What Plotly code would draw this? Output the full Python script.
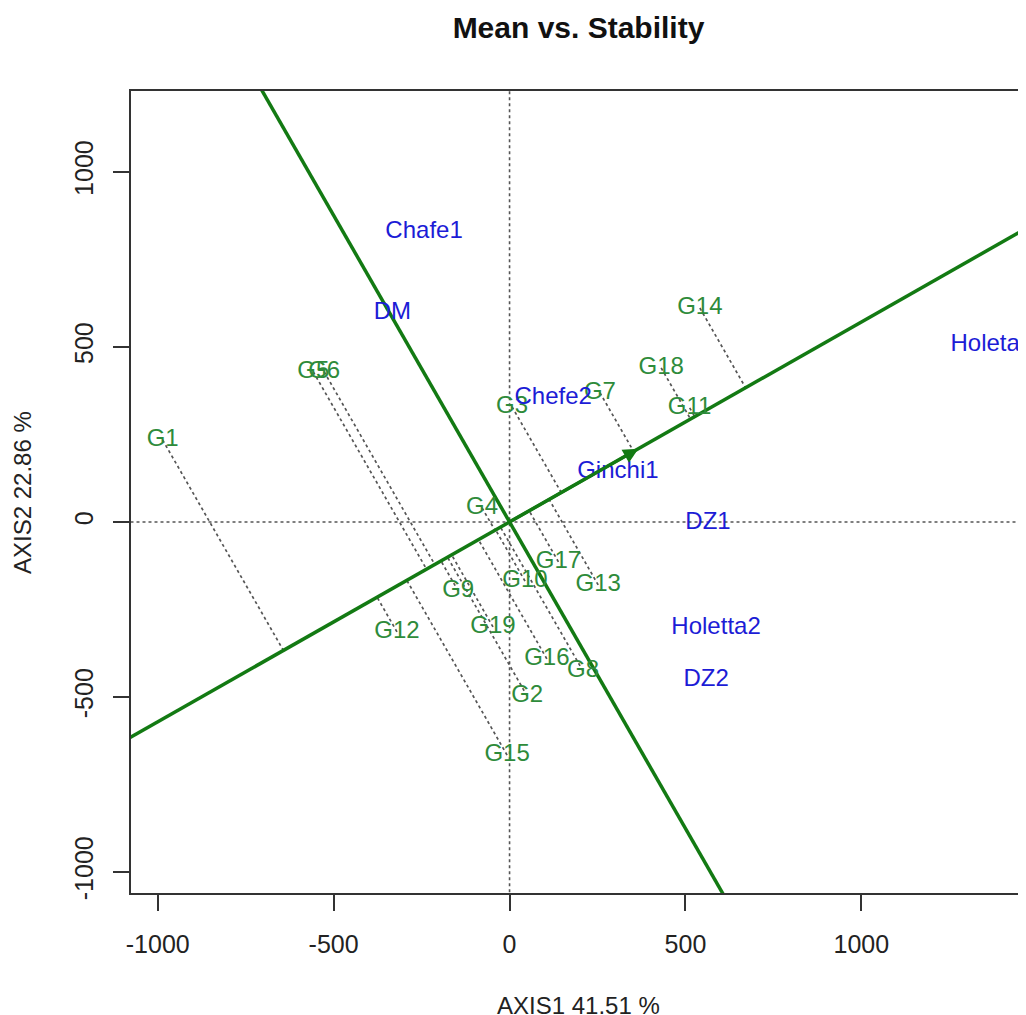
import plotly.graph_objects as go

# ---- data ----
env_names = ["Chafe1", "DM", "Chefe2", "Ginchi1", "DZ1", "Holetta2", "DZ2", "Holeta1"]
env_x = [-243, -333, 124, 308, 564, 587, 559, 1371]
env_y = [829, 597, 354, 143, -3, -303, -451, 506]

gen_names = ["G1", "G5", "G6", "G3", "G7", "G14", "G18", "G11", "G4", "G17",
             "G10", "G13", "G9", "G12", "G19", "G16", "G8", "G2", "G15"]
gen_x = [-986, -558, -527, 7, 257, 541, 431, 512, -78, 139,
         44, 252, -146, -320, -47, 106, 209, 50, -7]
gen_y = [234, 429, 429, 329, 369, 611, 440, 326, 40, -114,
         -169, -180, -197, -314, -300, -391, -426, -497, -666]

# average environment coordinate (arrow tip)
mean_env = [366, 209]

x_range = [-1076, 1468]
y_range = [-1060, 1231]
tick_vals = [-1000, -500, 0, 500, 1000]
tick_text = ["-1000", "-500", "0", "500", "1000"]

title_text = "Mean vs. Stability"
x_title = "AXIS1 41.51 %"
y_title = "AXIS2 22.86 %"

# ---- styling ----
FONT = "Liberation Sans, Arial, sans-serif"
LINE_GREEN = "#137a13"
GEN_COL = "#2e8b3a"
ENV_COL = "#1c1cd6"
AX_COL = "#333333"

m1, m2 = mean_env
slope = m2 / m1
big = 5000

fig = go.Figure()

# dotted reference lines at x=0 and y=0
fig.add_trace(go.Scatter(x=[0, 0, None, -big, big], y=[-big, big, None, 0, 0],
                         mode="lines", line=dict(color="#555555", width=1.6, dash="dot"),
                         hoverinfo="skip", showlegend=False))

# projection lines from each genotype onto the AEC abscissa
px, py = [], []
nn = m1 * m1 + m2 * m2
for gx, gy in zip(gen_x, gen_y):
    t = (gx * m1 + gy * m2) / nn
    px += [gx, t * m1, None]
    py += [gy, t * m2, None]
fig.add_trace(go.Scatter(x=px, y=py, mode="lines",
                         line=dict(color="#555555", width=1.7, dash="dot"),
                         hoverinfo="skip", showlegend=False))

# AEC abscissa and ordinate
fig.add_trace(go.Scatter(x=[-big, big], y=[-big * slope, big * slope], mode="lines",
                         line=dict(color=LINE_GREEN, width=3.5),
                         hoverinfo="skip", showlegend=False))
fig.add_trace(go.Scatter(x=[-big * slope, big * slope], y=[big, -big], mode="lines",
                         line=dict(color=LINE_GREEN, width=3.5),
                         hoverinfo="skip", showlegend=False))

# genotype labels
fig.add_trace(go.Scatter(x=gen_x, y=gen_y, mode="text", text=gen_names,
                         textposition="middle center",
                         textfont=dict(family=FONT, size=24, color=GEN_COL),
                         showlegend=False))
# environment labels
fig.add_trace(go.Scatter(x=env_x, y=env_y, mode="text", text=env_names,
                         textposition="middle center",
                         textfont=dict(family=FONT, size=24, color=ENV_COL),
                         showlegend=False))

# arrow for the average environment
fig.add_annotation(x=m1, y=m2, ax=0, ay=0, xref="x", yref="y", axref="x", ayref="y",
                   showarrow=True, arrowhead=2, arrowsize=1.0, arrowwidth=3,
                   arrowcolor=LINE_GREEN, text="")

# axis titles
fig.add_annotation(text=x_title, xref="paper", yref="paper", x=0.5, y=-0.1397,
                   xanchor="center", yanchor="middle", showarrow=False,
                   font=dict(family=FONT, size=24, color="#222222"))
fig.add_annotation(text=y_title, xref="paper", yref="paper", x=-0.1218, y=0.5,
                   xanchor="center", yanchor="middle", textangle=-90, showarrow=False,
                   font=dict(family=FONT, size=24, color="#222222"))

# the page body has an 8px margin, so the figure is sized to fit the window
fig.update_layout(
    width=1018, height=1007,
    margin=dict(l=123, r=0, t=83, b=122),
    paper_bgcolor="white", plot_bgcolor="white",
    title=dict(text="<b>" + title_text + "</b>", x=0.5, xref="paper",
               y=1 - 19 / 1007, yanchor="middle",
               font=dict(family=FONT, size=30, color="#111111")),
    xaxis=dict(range=x_range, tickvals=tick_vals, ticktext=tick_text,
               showgrid=False, zeroline=False,
               showline=True, linecolor=AX_COL, linewidth=2, mirror=True,
               ticks="outside", ticklen=16, tickwidth=2, tickcolor=AX_COL,
               ticklabelstandoff=12,
               tickfont=dict(family=FONT, size=25, color="#222222")),
    yaxis=dict(range=y_range, tickvals=tick_vals, ticktext=tick_text,
               showgrid=False, zeroline=False,
               showline=True, linecolor=AX_COL, linewidth=2, mirror=False,
               ticks="outside", ticklen=16, tickwidth=2, tickcolor=AX_COL,
               tickangle=-90, ticklabelstandoff=10,
               tickfont=dict(family=FONT, size=25, color="#222222")),
)

fig.write_html("out.html")
